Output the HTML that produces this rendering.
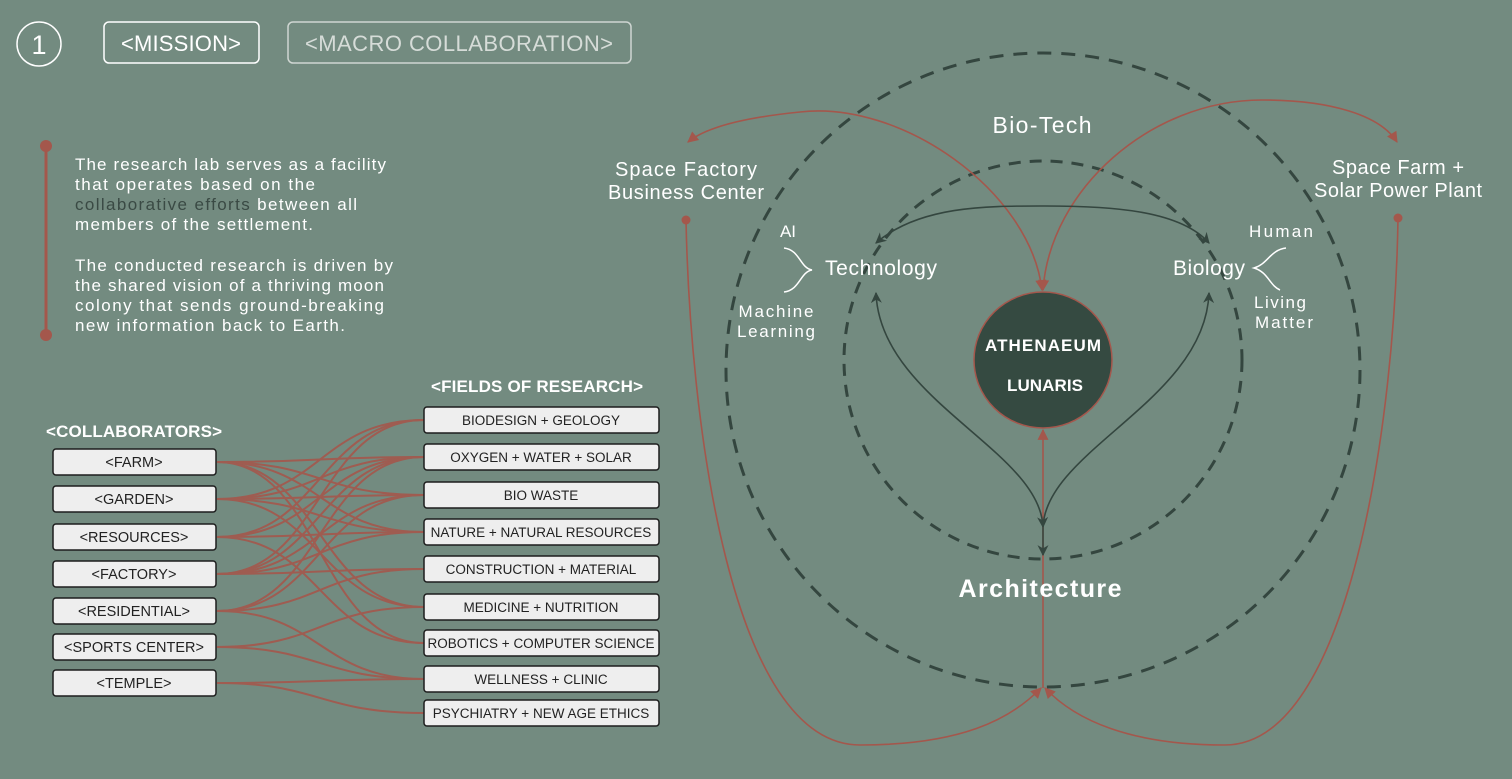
<!DOCTYPE html>
<html><head><meta charset="utf-8"><style>
html,body{margin:0;padding:0;background:#738b80;}
svg{display:block;font-family:"Liberation Sans",sans-serif;}
</style></head><body>
<svg width="1512" height="779" viewBox="0 0 1512 779" xmlns="http://www.w3.org/2000/svg">
<defs>
<marker id="ar" viewBox="0 0 10 10" refX="9" refY="5" markerWidth="13" markerHeight="11" orient="auto-start-reverse" markerUnits="userSpaceOnUse"><path d="M0,0 L10,5 L0,10 z" fill="#a4574c"/></marker>
<marker id="ad" viewBox="0 0 10 10" refX="9" refY="5" markerWidth="13" markerHeight="11" orient="auto-start-reverse" markerUnits="userSpaceOnUse"><path d="M0,0 L10,5 L0,10 L3,5 z" fill="#34463f"/></marker>
</defs>
<rect width="1512" height="779" fill="#738b80"/>
<!-- header -->
<circle cx="39" cy="44" r="22" fill="none" stroke="#fff" stroke-width="1.5"/>
<text x="39" y="54" font-size="27" fill="#fff" text-anchor="middle">1</text>
<rect x="104" y="22" width="155" height="41" rx="5" fill="none" stroke="#fff" stroke-width="1.5"/>
<text x="181" y="51" font-size="22" fill="#fff" text-anchor="middle" textLength="120">&lt;MISSION&gt;</text>
<rect x="288" y="22" width="343" height="41" rx="5" fill="none" stroke="#cfd6d2" stroke-width="1.5"/>
<text x="459" y="51" font-size="22" fill="#d6dcd8" text-anchor="middle" textLength="308">&lt;MACRO COLLABORATION&gt;</text>
<!-- mission text -->
<line x1="46" y1="146" x2="46" y2="335" stroke="#a4574c" stroke-width="3"/>
<circle cx="46" cy="146" r="6" fill="#a4574c"/><circle cx="46" cy="335" r="6" fill="#a4574c"/>
<g font-size="17" fill="#fff">
<text x="75" y="170" textLength="311">The research lab serves as a facility</text>
<text x="75" y="190" textLength="240">that operates based on the</text>
<text x="75" y="210" textLength="282"><tspan fill="#3a4a44">collaborative efforts</tspan> between all</text>
<text x="75" y="230" textLength="238">members of the settlement.</text>
<text x="75" y="271" textLength="318">The conducted research is driven by</text>
<text x="75" y="291" textLength="309">the shared vision of a  thriving moon</text>
<text x="75" y="311" textLength="309">colony that sends ground-breaking</text>
<text x="75" y="331" textLength="270">new information back to Earth.</text>
</g>
<!-- connections -->
<g fill="none" stroke="#a4574c" stroke-width="2" opacity="0.9">
<path d="M217,462 C320,462 320,457 424,457"/>
<path d="M217,462 C320,462 320,495 424,495"/>
<path d="M217,462 C320,462 320,532 424,532"/>
<path d="M217,462 C320,462 320,607 424,607"/>
<path d="M217,462 C320,462 320,643 424,643"/>
<path d="M217,499 C320,499 320,420 424,420"/>
<path d="M217,499 C320,499 320,457 424,457"/>
<path d="M217,499 C320,499 320,495 424,495"/>
<path d="M217,499 C320,499 320,532 424,532"/>
<path d="M217,499 C320,499 320,607 424,607"/>
<path d="M217,537 C320,537 320,420 424,420"/>
<path d="M217,537 C320,537 320,457 424,457"/>
<path d="M217,537 C320,537 320,532 424,532"/>
<path d="M217,537 C320,537 320,643 424,643"/>
<path d="M217,574 C320,574 320,420 424,420"/>
<path d="M217,574 C320,574 320,457 424,457"/>
<path d="M217,574 C320,574 320,495 424,495"/>
<path d="M217,574 C320,574 320,532 424,532"/>
<path d="M217,574 C320,574 320,569 424,569"/>
<path d="M217,611 C320,611 320,457 424,457"/>
<path d="M217,611 C320,611 320,495 424,495"/>
<path d="M217,611 C320,611 320,569 424,569"/>
<path d="M217,611 C320,611 320,679 424,679"/>
<path d="M217,647 C320,647 320,607 424,607"/>
<path d="M217,647 C320,647 320,679 424,679"/>
<path d="M217,683 C320,683 320,679 424,679"/>
<path d="M217,683 C320,683 320,713 424,713"/>
</g>
<!-- labels -->
<text x="134" y="437" font-size="17" font-weight="bold" fill="#fff" text-anchor="middle" textLength="176">&lt;COLLABORATORS&gt;</text>
<text x="537" y="392" font-size="17" font-weight="bold" fill="#fff" text-anchor="middle" textLength="212">&lt;FIELDS OF RESEARCH&gt;</text>
<g font-size="14.5" fill="#222" text-anchor="middle">
<g stroke="#1d1d1d" stroke-width="1.5" fill="#eeeeee">
<rect x="53" y="449" width="163" height="26" rx="3"/>
<rect x="53" y="486" width="163" height="26" rx="3"/>
<rect x="53" y="524" width="163" height="26" rx="3"/>
<rect x="53" y="561" width="163" height="26" rx="3"/>
<rect x="53" y="598" width="163" height="26" rx="3"/>
<rect x="53" y="634" width="163" height="26" rx="3"/>
<rect x="53" y="670" width="163" height="26" rx="3"/>
<rect x="424" y="407" width="235" height="26" rx="3"/>
<rect x="424" y="444" width="235" height="26" rx="3"/>
<rect x="424" y="482" width="235" height="26" rx="3"/>
<rect x="424" y="519" width="235" height="26" rx="3"/>
<rect x="424" y="556" width="235" height="26" rx="3"/>
<rect x="424" y="594" width="235" height="26" rx="3"/>
<rect x="424" y="630" width="235" height="26" rx="3"/>
<rect x="424" y="666" width="235" height="26" rx="3"/>
<rect x="424" y="700" width="235" height="26" rx="3"/>
</g>
<text x="134" y="467">&lt;FARM&gt;</text>
<text x="134" y="504">&lt;GARDEN&gt;</text>
<text x="134" y="542">&lt;RESOURCES&gt;</text>
<text x="134" y="579">&lt;FACTORY&gt;</text>
<text x="134" y="616">&lt;RESIDENTIAL&gt;</text>
<text x="134" y="652">&lt;SPORTS CENTER&gt;</text>
<text x="134" y="688">&lt;TEMPLE&gt;</text>
<g font-size="13.5">
<text x="541" y="425">BIODESIGN + GEOLOGY</text>
<text x="541" y="462">OXYGEN + WATER + SOLAR</text>
<text x="541" y="500">BIO WASTE</text>
<text x="541" y="537">NATURE + NATURAL RESOURCES</text>
<text x="541" y="574">CONSTRUCTION + MATERIAL</text>
<text x="541" y="612">MEDICINE + NUTRITION</text>
<text x="541" y="648">ROBOTICS + COMPUTER SCIENCE</text>
<text x="541" y="684">WELLNESS + CLINIC</text>
<text x="541" y="718">PSYCHIATRY + NEW AGE ETHICS</text>
</g>
</g>
<!-- right diagram -->
<circle cx="1043" cy="370" r="317" fill="none" stroke="#34463f" stroke-width="3" stroke-dasharray="14 10"/>
<circle cx="1043" cy="360" r="199" fill="none" stroke="#34463f" stroke-width="3" stroke-dasharray="12 9"/>
<!-- red -->
<g fill="none" stroke="#a4574c" stroke-width="1.6">
<path d="M1042,290 C1030,190 900,100 800,112 C740,118 705,128 688,142" marker-start="url(#ar)" marker-end="url(#ar)"/>
<path d="M1043,290 C1050,190 1150,100 1262,100 C1330,100 1380,115 1397,142" marker-start="url(#ar)" marker-end="url(#ar)"/>
<path d="M686,220 C690,420 730,745 860,745 C960,745 1010,720 1041,688" marker-end="url(#ar)"/>
<path d="M1398,218 C1395,420 1350,745 1225,745 C1130,745 1075,720 1045,688" marker-end="url(#ar)"/>
<path d="M1043,688 L1043,430" marker-end="url(#ar)"/>
</g>
<circle cx="686" cy="220" r="4.5" fill="#a4574c"/>
<circle cx="1398" cy="218" r="4.5" fill="#a4574c"/>
<!-- dark arrows -->
<g fill="none" stroke="#34463f" stroke-width="1.6">
<path d="M876,243 C920,205 990,206 1045,206 C1110,206 1180,210 1209,243" marker-start="url(#ad)" marker-end="url(#ad)"/>
<path d="M1043,527 C1040,450 880,400 876,293" marker-start="url(#ad)" marker-end="url(#ad)"/>
<path d="M1043,527 C1046,450 1205,400 1209,293" marker-end="url(#ad)"/>
<path d="M1043,527 L1043,555" marker-end="url(#ad)"/>
</g>
<ellipse cx="1043" cy="360" rx="69" ry="68" fill="#354a41" stroke="#a4574c" stroke-width="1.5"/>
<text x="1043" y="351" font-size="17" font-weight="bold" fill="#fff" text-anchor="middle" textLength="116">ATHENAEUM</text>
<text x="1045" y="391" font-size="17" font-weight="bold" fill="#fff" text-anchor="middle" textLength="76">LUNARIS</text>
<g fill="#fff" text-anchor="middle">
<text x="1042" y="133" font-size="23" textLength="99">Bio-Tech</text>
<text x="686" y="176" font-size="20" textLength="142">Space Factory</text>
<text x="686" y="199" font-size="20" textLength="156">Business Center</text>
<text x="1398" y="174" font-size="20" textLength="132">Space Farm +</text>
<text x="1398" y="197" font-size="20" textLength="168">Solar Power Plant</text>
<text x="881" y="275" font-size="21" textLength="112">Technology</text>
<text x="1209" y="275" font-size="21" textLength="72">Biology</text>
<text x="1040" y="597" font-size="25" font-weight="bold" textLength="163">Architecture</text>
<text x="788" y="237" font-size="17">AI</text>
<text x="776" y="317" font-size="17" textLength="75">Machine</text>
<text x="776" y="337" font-size="17" textLength="78">Learning</text>
<text x="1281" y="237" font-size="17" textLength="64">Human</text>
<text x="1280" y="308" font-size="17" textLength="52">Living</text>
<text x="1284" y="328" font-size="17" textLength="58">Matter</text>
</g>
<g fill="none" stroke="#fff" stroke-width="1.5">
<path d="M784,248 C800,250 800,268 812,270 C800,272 800,290 784,292"/>
<path d="M1286,248 C1270,250 1268,264 1254,268 C1268,272 1270,286 1280,290"/>
</g>
</svg>
</body></html>
